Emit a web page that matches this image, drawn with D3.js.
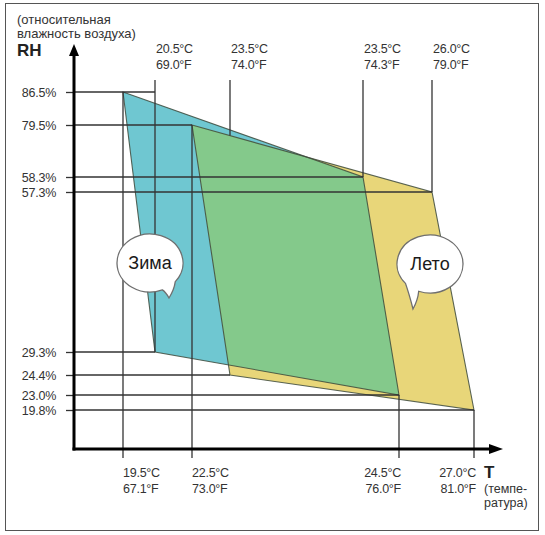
<!DOCTYPE html>
<html>
<head>
<meta charset="utf-8">
<script src="https://cdn.jsdelivr.net/npm/d3@7"></script>
<style>
  body { margin: 0; background: #fff; }
  svg { display: block; font-family: "Liberation Sans", Arial, sans-serif; }
  .lbl { font-size: 12.5px; fill: #333; letter-spacing: -0.25px; }
  .guide { stroke: #333; stroke-width: 1.3; fill: none; }
</style>
</head>
<body>
<svg id="chart" width="545" height="535"></svg>
<script>
// comfort zones, temperature in °F (°C labels kept as text), relative humidity in %
const tempC = ['19.5', '20.5', '22.5', '23.5', '23.5', '24.5', '26.0', '27.0'];
const tempF = [67.1, 69.0, 73.0, 74.0, 74.3, 76.0, 79.0, 81.0];
const rhValues = [86.5, 79.5, 58.3, 57.3, 29.3, 24.4, 23.0, 19.8];

const winterZone = [[67.1, 86.5], [74.3, 58.3], [76.0, 23.0], [69.0, 29.3]];
const summerZone = [[73.0, 79.5], [79.0, 57.3], [81.0, 19.8], [74.0, 24.4]];

// which temperatures are labelled on top / bottom
const tempTop = [69.0, 74.0, 74.3, 79.0];
const tempBottom = [67.1, 73.0, 76.0, 81.0];

// where each guide line ends
const rhGuideEnd = [69.0, 73.0, 74.3, 79.0, 69.0, 74.0, 76.0, 81.0];
const tempGuideEnd = { 67.1: 86.5, 69.0: 29.3, 73.0: 79.5, 74.3: 58.3, 76.0: 23.0, 79.0: 57.3, 81.0: 19.8 };

const svg = d3.select('#chart');

// the schematic is not to scale, so use piecewise linear scales
const x = d3.scaleLinear().domain(tempF).range([123, 155, 192, 230, 363, 399, 432, 474]);
const y = d3.scaleLinear().domain(rhValues).range([92, 125, 177, 192, 352, 375, 395, 410]);

const originX = 74;
const originY = 449;
const topY = 80;
const bottomTick = 458;

// frame
svg.append('rect')
  .attr('x', 5.5).attr('y', 3.5)
  .attr('width', 533).attr('height', 527)
  .attr('fill', 'none')
  .attr('stroke', '#555');

// zones
const line = d3.line().x(d => x(d[0])).y(d => y(d[1])).curve(d3.curveLinearClosed);

svg.append('defs').append('clipPath')
  .attr('id', 'summer-clip')
  .append('path')
  .attr('d', line(summerZone));

svg.append('path').attr('d', line(winterZone)).attr('fill', '#6fc7d1');
svg.append('path').attr('d', line(summerZone)).attr('fill', '#e8d679');
svg.append('path').attr('d', line(winterZone))
  .attr('fill', '#84c98b')
  .attr('clip-path', 'url(#summer-clip)');

[winterZone, summerZone].forEach((zone) => {
  svg.append('path')
    .attr('d', line(zone))
    .attr('fill', 'none')
    .attr('stroke', '#3d4a3c')
    .attr('stroke-opacity', 0.85)
    .attr('stroke-width', 1.1);
});

// horizontal guides
rhValues.forEach((rh, i) => {
  svg.append('line').attr('class', 'guide')
    .attr('x1', originX).attr('x2', x(rhGuideEnd[i]))
    .attr('y1', y(rh)).attr('y2', y(rh));
});

// vertical guides from the top
tempTop.forEach((f) => {
  let yEnd;
  if (tempGuideEnd[f] !== undefined) {
    yEnd = y(tempGuideEnd[f]);
  } else {
    // ends on the top edge of the summer zone
    const [a, b] = [summerZone[0], summerZone[1]];
    const t = (x(f) - x(a[0])) / (x(b[0]) - x(a[0]));
    yEnd = y(a[1]) + t * (y(b[1]) - y(a[1]));
  }
  svg.append('line').attr('class', 'guide')
    .attr('x1', x(f)).attr('x2', x(f))
    .attr('y1', topY).attr('y2', yEnd);
});

// vertical guides from the bottom
tempBottom.forEach((f) => {
  svg.append('line').attr('class', 'guide')
    .attr('x1', x(f)).attr('x2', x(f))
    .attr('y1', bottomTick).attr('y2', y(tempGuideEnd[f]));
});

// y axis labels and ticks
const yAxis = d3.axisLeft(y)
  .tickValues(rhValues)
  .tickFormat(d => `${d.toFixed(1)}%`)
  .tickSize(8)
  .tickPadding(10);

const gy = svg.append('g')
  .attr('transform', `translate(${originX}, 0)`)
  .call(yAxis);
gy.select('.domain').remove();
gy.selectAll('.tick line').attr('stroke', '#333').attr('stroke-width', 1.3);
gy.selectAll('.tick text')
  .attr('class', 'lbl')
  .style('font-family', '"Liberation Sans", Arial, sans-serif');

// temperature labels
const cLabel = f => `${tempC[tempF.indexOf(f)]}°C`;
const fLabel = f => `${f.toFixed(1)}°F`;

tempTop.forEach((f) => {
  [cLabel(f), fLabel(f)].forEach((txt, k) => {
    svg.append('text').attr('class', 'lbl')
      .attr('x', x(f) + 1)
      .attr('y', 53 + k * 16)
      .text(txt);
  });
});

tempBottom.forEach((f, i) => {
  const right = i >= 2;
  [cLabel(f), fLabel(f)].forEach((txt, k) => {
    svg.append('text').attr('class', 'lbl')
      .attr('x', right ? x(f) + 2 : x(f))
      .attr('y', 477 + k * 16)
      .attr('text-anchor', right ? 'end' : 'start')
      .text(txt);
  });
});

// axes with arrows
svg.append('line')
  .attr('x1', originX).attr('x2', originX)
  .attr('y1', originY + 1.5).attr('y2', 54)
  .attr('stroke', '#000').attr('stroke-width', 3);
svg.append('path')
  .attr('d', `M${originX},44L${originX - 5},56L${originX + 5},56Z`)
  .attr('fill', '#000');

svg.append('line')
  .attr('x1', originX - 1.5).attr('x2', 490)
  .attr('y1', originY).attr('y2', originY)
  .attr('stroke', '#000').attr('stroke-width', 3);
svg.append('path')
  .attr('d', `M503,${originY}L489,${originY - 5}L489,${originY + 5}Z`)
  .attr('fill', '#000');

// axis titles
svg.append('text').attr('x', 17).attr('y', 24)
  .attr('font-size', 13).attr('fill', '#333')
  .text('(относительная');
svg.append('text').attr('x', 17).attr('y', 38)
  .attr('font-size', 13).attr('fill', '#333')
  .text('влажность воздуха)');
svg.append('text').attr('x', 17).attr('y', 56)
  .attr('font-size', 17).attr('font-weight', 'bold').attr('fill', '#222')
  .text('RH');

svg.append('text').attr('x', 484).attr('y', 478)
  .attr('font-size', 17).attr('font-weight', 'bold').attr('fill', '#222')
  .text('T');
svg.append('text').attr('x', 484).attr('y', 493)
  .attr('font-size', 12.5).attr('fill', '#333')
  .text('(темпе-');
svg.append('text').attr('x', 484).attr('y', 507)
  .attr('font-size', 12.5).attr('fill', '#333')
  .text('ратура)');

// speech bubbles
function bubble(cx, cy, rx, ry, a1, a2, tip, label) {
  const p = a => [cx + rx * Math.cos(a * Math.PI / 180), cy + ry * Math.sin(a * Math.PI / 180)];
  const [s1, s2] = [p(a1), p(a2)];
  const d = `M${s2[0]},${s2[1]}A${rx},${ry} 0 1 1 ${s1[0]},${s1[1]}`
    + `Q${(s1[0] + tip[0]) / 2 + 2},${(s1[1] + tip[1]) / 2} ${tip[0]},${tip[1]}`
    + `Q${(s2[0] + tip[0]) / 2},${(s2[1] + tip[1]) / 2 - 2} ${s2[0]},${s2[1]}Z`;
  svg.append('path')
    .attr('d', d)
    .attr('fill', '#fff')
    .attr('stroke', '#6f6f6f')
    .attr('stroke-width', 1.3);
  svg.append('text')
    .attr('x', cx).attr('y', cy + 6)
    .attr('text-anchor', 'middle')
    .attr('font-size', 18)
    .attr('fill', '#1a1a1a')
    .text(label);
}

bubble(150, 263, 33, 29, 40, 68, [169, 298], 'Зима');
bubble(430, 264, 33, 29, 110, 138, [413, 309], 'Лето');
</script>
</body>
</html>
